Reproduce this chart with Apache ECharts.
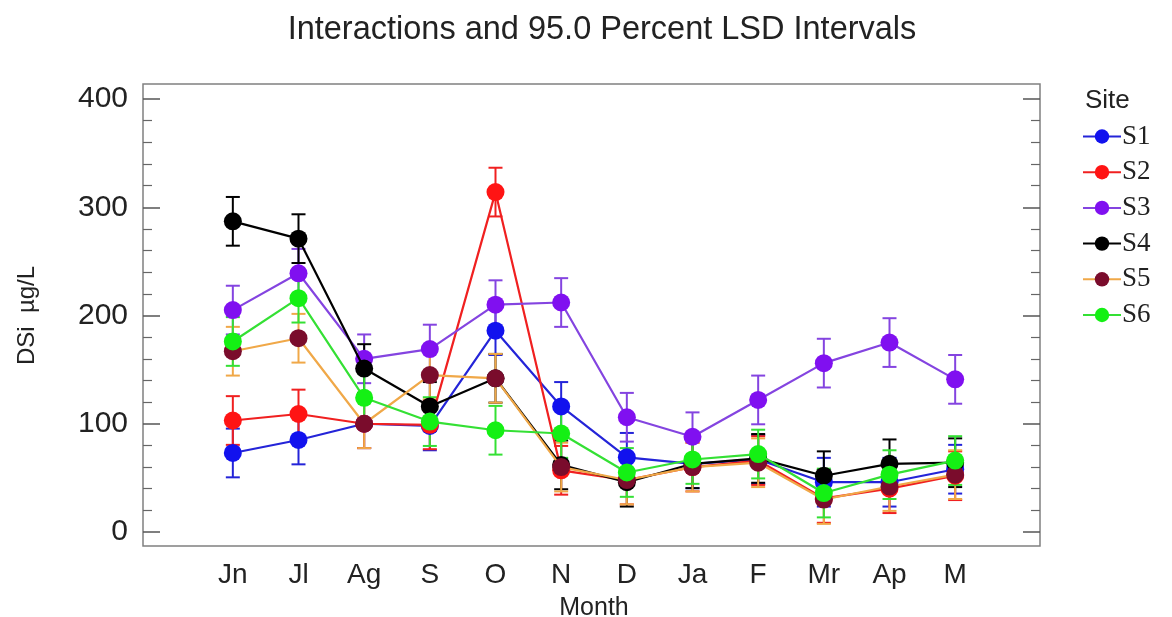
<!DOCTYPE html>
<html>
<head>
<meta charset="utf-8">
<script src="https://cdn.jsdelivr.net/npm/echarts@6/dist/echarts.min.js"></script>
<style>html,body{margin:0;padding:0;background:#fff;}#c{width:1172px;height:617px;}</style>
</head>
<body>
<div id="c"></div>
<script>
// ---- data ----
const months = ['Jn','Jl','Ag','S','O','N','D','Ja','F','Mr','Ap','M'];
const siteNames = ['S1','S2','S3','S4','S5','S6'];
const s1 = [73, 85, 100, 98, 186, 116, 69, 63, 67, 46, 46, 58];
const s2 = [103, 109, 100, 99, 314, 57, 48, 60, 66, 31, 40, 52];
const s3 = [205, 239, 160, 169, 210, 212, 106, 88, 122, 156, 175, 141];
const s4 = [287, 271, 151, 116, 142, 62, 46, 63, 68, 52, 63, 64];
const s5 = [167, 179, 100, 145, 142, 60, 48, 60, 64, 30, 42, 53];
const s6 = [176, 216, 124, 102, 94, 91, 55, 67, 72, 36, 53, 66];
const lsdHalfWidth = 22.5;   // half-length of each 95% LSD interval
const yTicks = { min: 0, max: 400, interval: 100 };

const seriesValues = [s1, s2, s3, s4, s5, s6];
const markerColors = ['#1212ee', '#ff1414', '#8010f0', '#000000', '#7a0c2c', '#14f014'];
const lineColors   = ['#2424d8', '#f02020', '#8444e0', '#000000', '#f0a848', '#34e034'];

const series = [];
seriesValues.forEach((vals, k) => {
  series.push({
    name: siteNames[k] + '_err',
    type: 'custom',
    xAxisIndex: 2, yAxisIndex: 3,
    z: 2,
    silent: true,
    data: vals.map((v, i) => [i, v, lsdHalfWidth]),
    encode: { x: 0, y: 1 },
    renderItem: (params, api) => {
      const x = api.value(0), y = api.value(1), h = api.value(2);
      const t = api.coord([x, y + h]);
      const b = api.coord([x, y - h]);
      const cw = 7;
      const st = { stroke: lineColors[k], lineWidth: 2 };
      return { type: 'group', children: [
        { type: 'line', shape: { x1: t[0], y1: t[1], x2: b[0], y2: b[1] }, style: st },
        { type: 'line', shape: { x1: t[0] - cw, y1: t[1], x2: t[0] + cw, y2: t[1] }, style: st },
        { type: 'line', shape: { x1: b[0] - cw, y1: b[1], x2: b[0] + cw, y2: b[1] }, style: st }
      ]};
    }
  });
});
seriesValues.forEach((vals, k) => {
  series.push({
    name: siteNames[k],
    type: 'line',
    xAxisIndex: 2, yAxisIndex: 3,
    z: 3 + k,
    data: vals,
    symbol: 'circle',
    symbolSize: 18,
    itemStyle: { color: markerColors[k] },
    lineStyle: { color: lineColors[k], width: 2.2 },
    emphasis: { disabled: true },
    animation: false
  });
});

const tickText = { color: '#222', fontFamily: 'Liberation Sans', fontSize: 30 };

const option = {
  animation: false,
  title: [
    { text: 'Interactions and 95.0 Percent LSD Intervals', left: 597, top: 9, textAlign: 'center',
      textStyle: { fontFamily: 'Liberation Sans', fontSize: 32.5, fontWeight: 'normal', color: '#222' } },
    { text: 'Site', left: 1080, top: 83,
      textStyle: { fontFamily: 'Liberation Sans', fontSize: 26, fontWeight: 'normal', color: '#222' } }
  ],
  legend: {
    data: siteNames,
    orient: 'vertical',
    left: 1077, top: 118,
    itemWidth: 38, itemHeight: 18,
    itemGap: 8.7,
    selectedMode: false,
    textStyle: { fontFamily: 'Liberation Serif', fontSize: 27, color: '#222', padding: [0, 0, 0, -4] }
  },
  grid: [
    { left: 143, right: 132, top: 84, bottom: 71, show: true, borderColor: '#808080', borderWidth: 1.5,
      backgroundColor: 'transparent', containLabel: false, outerBoundsMode: 'none' },
    { left: 143, right: 132, top: 99, bottom: 85, containLabel: false, outerBoundsMode: 'none' },
    { left: 200, right: 184, top: 99, bottom: 85, containLabel: false, outerBoundsMode: 'none' }
  ],
  xAxis: [
    { gridIndex: 0, type: 'value', show: false },
    { gridIndex: 1, type: 'value', show: false },
    { gridIndex: 2, type: 'category', data: months, boundaryGap: true,
      axisLine: { show: false }, axisTick: { show: false },
      axisLabel: { margin: 29, ...tickText, fontSize: 28 },
      name: 'Month', nameLocation: 'middle', nameGap: 64,
      nameTextStyle: { fontFamily: 'Liberation Sans', fontSize: 25, color: '#222' } }
  ],
  yAxis: [
    { gridIndex: 0, type: 'value', show: false },
    { gridIndex: 1, type: 'value', position: 'left', min: yTicks.min, max: yTicks.max, interval: yTicks.interval,
      axisLine: { show: false },
      axisTick: { show: true, inside: true, length: 17, lineStyle: { color: '#555', width: 1.5 } },
      minorTick: { show: true, splitNumber: 5, length: 9, lineStyle: { color: '#666', width: 1.2 } },
      splitLine: { show: false },
      axisLabel: { margin: 15, ...tickText },
      name: 'DSi  µg/L', nameLocation: 'middle', nameGap: 104, nameRotate: 90,
      nameTextStyle: { fontFamily: 'Liberation Sans', fontSize: 24, color: '#222' } },
    { gridIndex: 1, type: 'value', position: 'right', min: yTicks.min, max: yTicks.max, interval: yTicks.interval,
      axisLine: { show: false },
      axisTick: { show: true, inside: true, length: 17, lineStyle: { color: '#555', width: 1.5 } },
      minorTick: { show: true, splitNumber: 5, length: 9, lineStyle: { color: '#666', width: 1.2 } },
      splitLine: { show: false }, axisLabel: { show: false } },
    { gridIndex: 2, type: 'value', min: yTicks.min, max: yTicks.max, show: false, splitLine: { show: false } }
  ],
  series: series
};

const chart = echarts.init(document.getElementById('c'), null, { renderer: 'canvas' });
chart.setOption(option);
</script>
</body>
</html>
